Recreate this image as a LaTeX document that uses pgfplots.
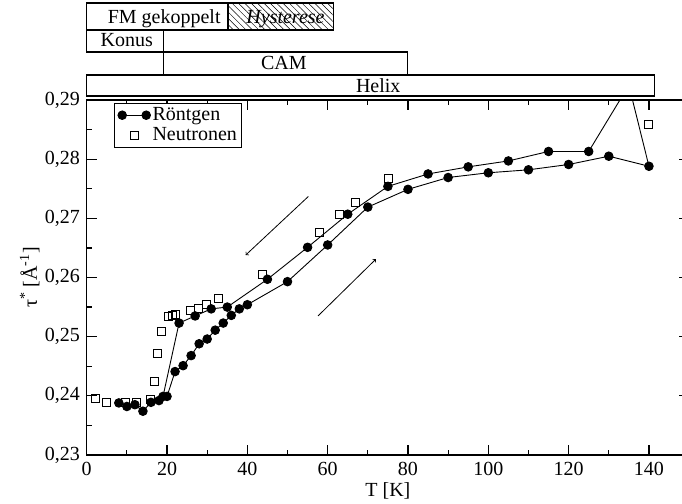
\documentclass[border=0pt]{standalone}
\usepackage{fontspec}
\setmainfont{Liberation Serif}
\usepackage{pgfplots}
\pgfplotsset{compat=1.18}
\usetikzlibrary{patterns.meta}
\pgfplotsset{
  rleg/.style={legend image code/.code={\draw[##1] plot coordinates {(0pt,0pt) (24pt,0pt)};}},
  nleg/.style={legend image code/.code={\draw[mark repeat=2,mark phase=2,##1] plot coordinates {(0pt,0pt) (12pt,0pt) (24pt,0pt)};}},
}
\begin{document}
\fontsize{20}{24}\selectfont
\begin{tikzpicture}
\begin{axis}[
  scale only axis, width=602.4pt, height=355pt,
  xmin=0, xmax=150, ymin=0.23, ymax=0.29,
  xtick={0,20,40,60,80,100,120,140}, minor x tick num=1,
  ytick={0.23,0.24,0.25,0.26,0.27,0.28,0.29}, minor y tick num=1,
  major tick length=10pt, minor tick length=5pt,
  axis line style={line width=1.3pt},
  tick style={line width=1.2pt, black},
  /pgf/number format/assume math mode=true,
  yticklabel style={/pgf/number format/.cd, fixed, fixed zerofill, precision=2, use comma},
  xlabel={T [K]},
  ylabel={τ\textsuperscript{*} [Å\textsuperscript{-1}]},
  xlabel style={at={(axis description cs:0.5,0)}, anchor=base, yshift=-41.5pt},
  ylabel style={at={(axis description cs:-0.0946,0.5)}, anchor=center},
  clip mode=individual,
  reverse legend,
  legend cell align=left,
  legend style={at={(axis cs:6.9,0.28955)}, anchor=north west, draw=black, line width=1pt},
]
\coordinate (O) at (rel axis cs:0,0);
\addplot[only marks, mark=square, mark size=4pt, mark options={line width=0.9pt, fill=white}, nleg]
coordinates {
(2.1,0.2396) (5,0.2389) (9.7,0.2389) (12.5,0.2389) (15.8,0.2394) (16.8,0.2425) (17.7,0.2471)
(18.7,0.2509) (20.3,0.2535) (21.4,0.2536) (22.2,0.2538) (25.9,0.2545) (27.8,0.2547) (29.7,0.2554)
(32.9,0.2565) (43.7,0.2605) (57.9,0.2676) (62.9,0.2707) (66.9,0.2727) (75.1,0.2768) (140,0.2858)
};
\addlegendentry{Neutronen}
\addplot[black, line width=0.9pt, mark=*, mark size=4.3pt, mark options={solid, fill=black}, rleg]
coordinates {
(8,0.2388) (10,0.2382) (12,0.2385) (14,0.2374) (16,0.2389) (18,0.2392) (20,0.2399) (22,0.2441)
(24,0.2451) (26,0.2468) (28,0.2488) (30,0.2496) (32,0.2511) (34,0.2523) (36,0.2536) (38,0.2547)
(40,0.2554) (50,0.2593) (60,0.2655) (70,0.2719) (80,0.2749) (90,0.2769) (100,0.2777) (110,0.2782)
(120,0.2791) (130,0.2805) (140,0.2788) (135,0.2925) (125,0.2813) (115,0.2813) (105,0.2797)
(95,0.2787) (85,0.2775) (75,0.2754) (65,0.2707) (55,0.2651) (45,0.2597) (35,0.2550) (31,0.2547)
(27,0.2535) (23,0.2523) (19,0.2399)
};
\addlegendentry{Röntgen}
% arrows
\draw[->, line width=0.8pt] (axis cs:55.2,0.2737) -- (axis cs:39.6,0.2638);
\draw[->, line width=0.8pt] (axis cs:57.6,0.2535) -- (axis cs:72.0,0.2631);
% phase bars
\draw[line width=1.2pt] (axis cs:0,0.290676) rectangle (axis cs:141.3,0.294225);
\draw[line width=1.2pt] (axis cs:19.1,0.294225) rectangle (axis cs:79.8,0.298113);
\draw[line width=1.2pt] (axis cs:0,0.298113) rectangle (axis cs:19.1,0.301831);
\draw[line width=1.2pt] (axis cs:0,0.301831) rectangle (axis cs:35.2,0.306394);
\draw[line width=1.2pt, pattern={Lines[angle=-45,distance=4.5pt,line width=0.5pt]}] (axis cs:35.2,0.301831) rectangle (axis cs:61.4,0.306394);
\node[anchor=base] at (axis cs:19.3,0.302845) {FM gekoppelt};
\node[anchor=base] at (axis cs:49.5,0.302845) {\itshape Hysterese};
\node[anchor=base] at (axis cs:10,0.299042) {Konus};
\node[anchor=base] at (axis cs:49.1,0.295155) {CAM};
\node[anchor=base] at (axis cs:72.6,0.291268) {Helix};
\end{axis}
\pgfresetboundingbox
\path[use as bounding box] ([xshift=-86.7pt,yshift=-48pt]O) rectangle ([xshift=595.3pt,yshift=455pt]O);
\end{tikzpicture}
\end{document}
